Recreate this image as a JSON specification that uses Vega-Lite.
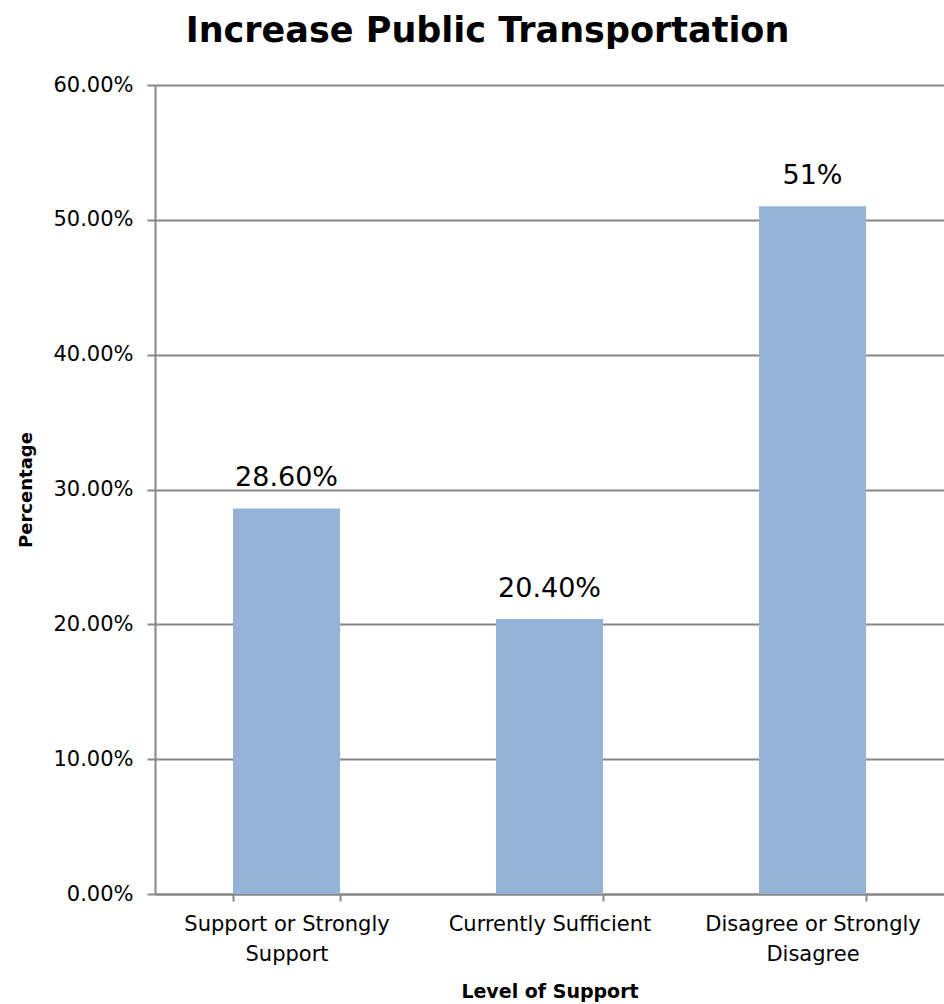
{
  "$schema": "https://vega.github.io/schema/vega-lite/v6.json",
  "width": 789,
  "height": 809,
  "autosize": {"type": "none"},
  "padding": {"left": 155, "top": 85, "right": 0, "bottom": 110},
  "background": "white",
  "title": {
    "text": "Increase Public Transportation",
    "font": "DejaVu Sans",
    "fontSize": 35,
    "fontWeight": "bold",
    "color": "black",
    "anchor": "middle",
    "dx": -62,
    "offset": 25
  },
  "data": {
    "values": [
      {"support": "Support or Strongly Support", "pct": 0.286, "label": "28.60%"},
      {"support": "Currently Sufficient", "pct": 0.204, "label": "20.40%"},
      {"support": "Disagree or Strongly Disagree", "pct": 0.51, "label": "51%"}
    ]
  },
  "encoding": {
    "x": {
      "field": "support",
      "type": "nominal",
      "sort": null,
      "scale": {"paddingInner": 0.593, "paddingOuter": 0.2965},
      "axis": {
        "title": "Level of Support",
        "titleFont": "DejaVu Sans",
        "titleFontSize": 19,
        "titleFontWeight": "bold",
        "titleColor": "black",
        "titlePadding": 18,
        "labelAngle": 0,
        "labelFont": "DejaVu Sans",
        "labelFontSize": 21,
        "labelColor": "black",
        "labelPadding": 12,
        "labelLineHeight": 30,
        "labelLimit": 400,
        "labelExpr": "datum.label == 'Support or Strongly Support' ? ['Support or Strongly', 'Support'] : datum.label == 'Disagree or Strongly Disagree' ? ['Disagree or Strongly', 'Disagree'] : datum.label",
        "tickBand": "extent",
        "ticks": true,
        "tickSize": 7,
        "tickColor": "#868686",
        "tickWidth": 2,
        "domainColor": "#868686",
        "domainWidth": 2,
        "grid": false
      }
    },
    "y": {
      "field": "pct",
      "type": "quantitative",
      "scale": {"domain": [0, 0.6], "nice": false},
      "axis": {
        "title": "Percentage",
        "titleFont": "DejaVu Sans",
        "titleFontSize": 18,
        "titleFontWeight": "bold",
        "titleColor": "black",
        "titlePadding": 17,
        "format": ".2%",
        "values": [0, 0.1, 0.2, 0.3, 0.4, 0.5, 0.6],
        "labelFont": "DejaVu Sans",
        "labelFontSize": 21,
        "labelColor": "black",
        "labelPadding": 14,
        "tickSize": 8,
        "tickColor": "#868686",
        "tickWidth": 2,
        "domainColor": "#868686",
        "domainWidth": 2,
        "grid": true,
        "gridColor": "#868686",
        "gridWidth": 2,
        "gridOpacity": 1
      }
    }
  },
  "layer": [
    {
      "mark": {"type": "bar", "color": "#95B3D7"}
    },
    {
      "mark": {
        "type": "text",
        "baseline": "bottom",
        "dy": -16,
        "font": "DejaVu Sans",
        "fontSize": 27,
        "color": "black"
      },
      "encoding": {"text": {"field": "label"}}
    }
  ],
  "config": {
    "view": {"stroke": null}
  }
}
